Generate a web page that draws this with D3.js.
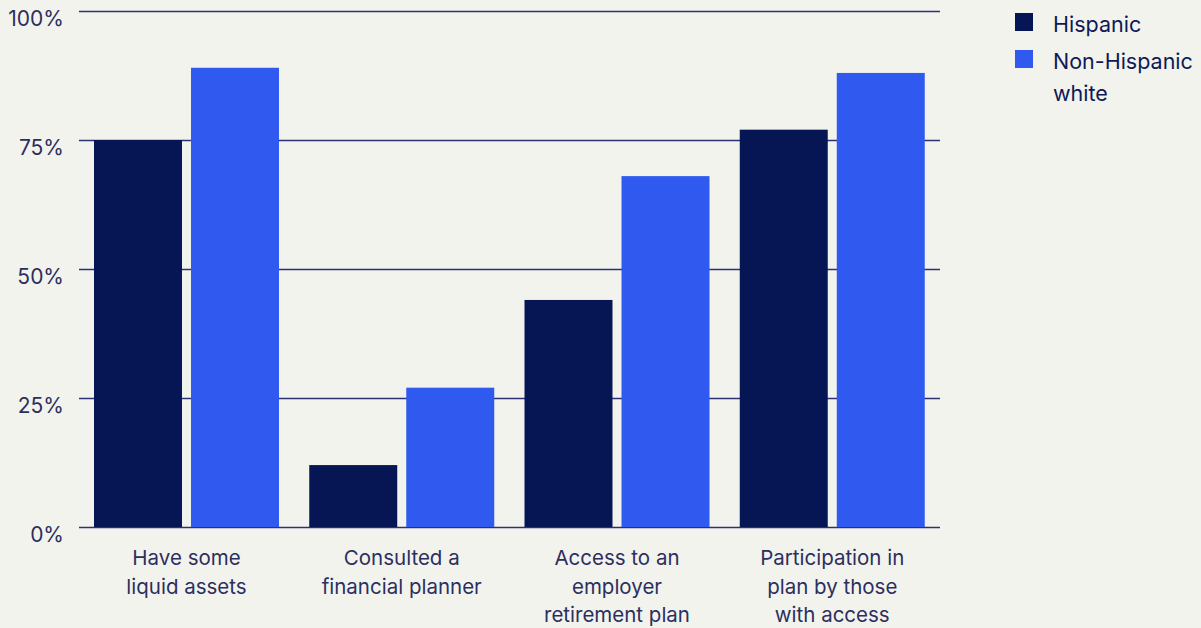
<!DOCTYPE html>
<html>
<head>
<meta charset="utf-8">
<script src="https://cdn.jsdelivr.net/npm/d3@7"></script>
<style>
  html, body { margin: 0; padding: 0; background: #f3f3ee; }
  svg { display: block; }
  text { font-family: "Inter", "Roboto", sans-serif; }
</style>
</head>
<body>
<svg id="chart" width="1201" height="628"></svg>
<script>
const categories = [
  ["Have some", "liquid assets"],
  ["Consulted a", "financial planner"],
  ["Access to an", "employer", "retirement plan"],
  ["Participation in", "plan by those", "with access"]
];
const seriesNames = ["Hispanic", "Non-Hispanic white"];
const hispanic = [75, 12, 44, 77];
const nonHispanicWhite = [89, 27, 68, 88];
const tickValues = [0, 25, 50, 75, 100];
const tickLabels = ["0%", "25%", "50%", "75%", "100%"];
const colors = ["#061655", "#3059ef"];

(function () {
const svg = d3.select("#chart");
const W = 1201, H = 628;
svg.append("rect").attr("width", W).attr("height", H).attr("fill", "#f3f3ee");

const mLeft = 79, mRight = 940, mTop = 11, mBottom = 527;
const y = d3.scaleLinear().domain([0, 100]).range([mBottom, mTop]);
const catIdx = categories.map((d, i) => i);
const x0 = d3.scaleBand().domain(catIdx).range([mLeft, mRight]).padding(0);
const x1 = d3.scaleBand().domain([0, 1]).range([15, x0.bandwidth() - 15.25]).paddingInner(0.093);

// gridlines
svg.append("g").selectAll("line").data(tickValues).join("line")
  .attr("x1", mLeft).attr("x2", mRight)
  .attr("y1", d => y(d) + 0.5).attr("y2", d => y(d) + 0.5)
  .attr("stroke", "#2b3172").attr("stroke-width", 1.3);

// tick labels
svg.append("g").selectAll("text").data(tickValues).join("text")
  .attr("x", 64).attr("y", d => y(d) + 14.5)
  .attr("text-anchor", "end")
  .attr("font-size", 21).attr("fill", "#2b2f5e")
  .text((d, i) => tickLabels[i]);

// bars
const data = catIdx.map(i => [hispanic[i], nonHispanicWhite[i]]);
const groups = svg.append("g").selectAll("g").data(data).join("g")
  .attr("transform", (d, i) => `translate(${x0(i)},0)`);
groups.selectAll("rect").data(d => d.map((v, k) => ({v, k}))).join("rect")
  .attr("x", d => x1(d.k)).attr("width", x1.bandwidth())
  .attr("y", d => y(d.v)).attr("height", d => y(0) - y(d.v))
  .attr("fill", d => colors[d.k]);

// category labels
const cx = i => x0(i) + 15 + (x0.bandwidth() - 30.25) / 2;
const lab = svg.append("g").selectAll("text").data(categories).join("text")
  .attr("text-anchor", "middle")
  .attr("font-size", 20.5).attr("fill", "#2b2f5e")
  .attr("x", (d, i) => cx(i));
lab.each(function (d, i) {
  d3.select(this).selectAll("tspan").data(d).join("tspan")
    .attr("x", cx(i))
    .attr("y", (t, j) => 565 + j * 28.5)
    .text(t => t);
});

// legend
const legendLines = [["Hispanic"], ["Non-Hispanic", "white"]];
const lg = svg.append("g");
const sqY = [13, 50];
legendLines.forEach((lines, k) => {
  lg.append("rect").attr("x", 1015).attr("y", sqY[k]).attr("width", 18).attr("height", 18).attr("fill", colors[k]);
  lines.forEach((t, j) => {
    lg.append("text").attr("x", 1053).attr("y", sqY[k] + 19 + j * 32)
      .attr("font-size", 21.5).attr("fill", "#0d1a56").text(t);
  });
});
})();
</script>
</body>
</html>
